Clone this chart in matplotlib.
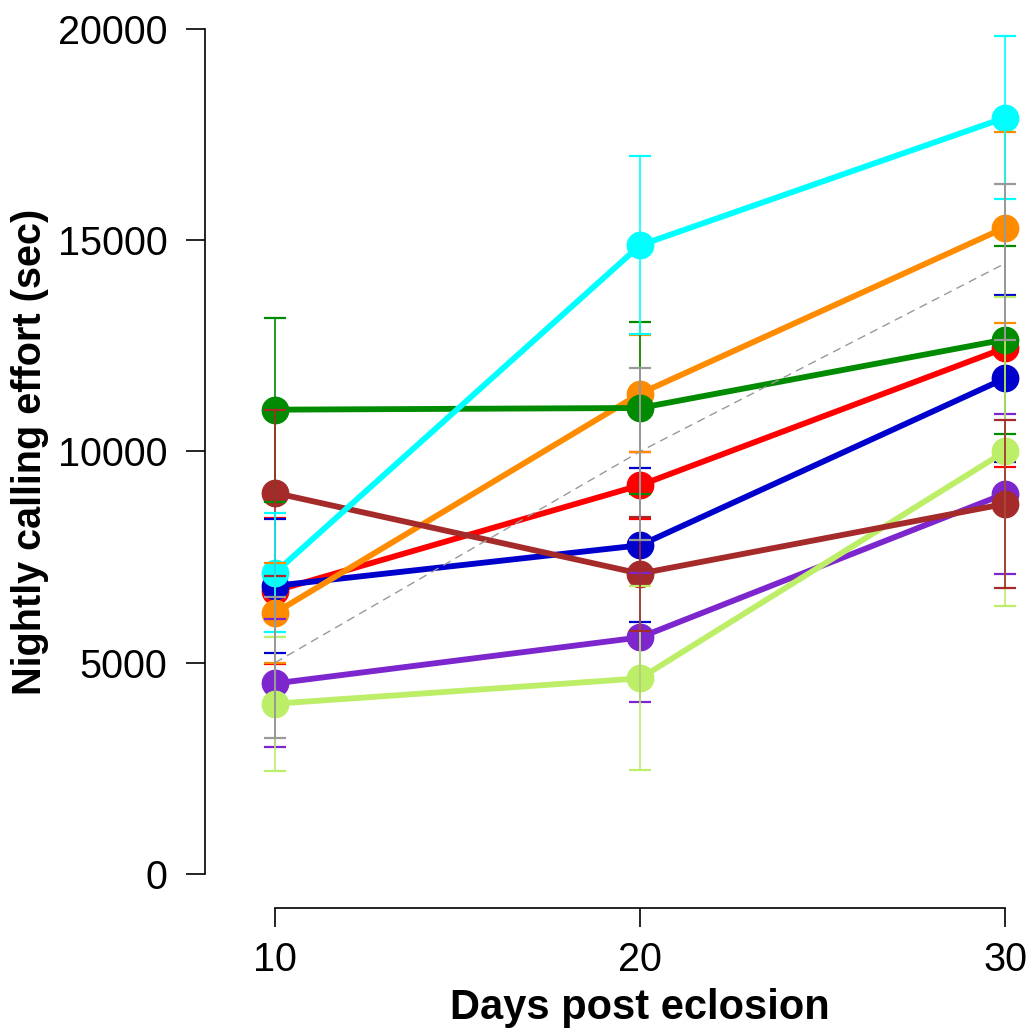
import numpy as np
import matplotlib
matplotlib.use("Agg")
import matplotlib.pyplot as plt

plt.rcParams['font.family'] = ['Liberation Sans', 'DejaVu Sans']

days = [10, 20, 30]

# mean nightly calling effort (sec) and error for each group
red = [6700, 9200, 12450]
red_err = [1720, 790, 2820]
blue = [6820, 7780, 11730]
blue_err = [1590, 1820, 1980]
orange = [6180, 11370, 15300]
orange_err = [1190, 1385, 2270]
green = [10990, 11030, 12650]
green_err = [2180, 2035, 2225]
purple = [4510, 5600, 9000]
purple_err = [1515, 1530, 1890]
lightgreen = [4030, 4630, 10000]
lightgreen_err = [1585, 2180, 3650]
brown = [9020, 7110, 8760]
brown_err = [1960, 1350, 1990]
cyan = [7130, 14880, 17900]
cyan_err = [1410, 2110, 1930]

# overall trend
overall = [5000, 10000, 14450]
overall_lo = [1780, 2100, 1810]
overall_hi = [1560, 1980, 1880]

groups = [
    (red, red_err, '#FF0000', 2.00, 1.50),
    (blue, blue_err, '#0000CD', 2.01, 1.60),
    (orange, orange_err, '#FF8C00', 2.02, 3.00),
    (green, green_err, '#008B00', 2.03, 3.10),
    (purple, purple_err, '#7D26CD', 2.04, 3.20),
    (lightgreen, lightgreen_err, '#BCEE68', 2.05, 3.30),
    (brown, brown_err, '#A52A2A', 2.06, 3.40),
    (cyan, cyan_err, '#00FFFF', 2.07, 3.50),
]

fig = plt.figure(figsize=(10.32, 10.33), dpi=100)
ax = fig.add_axes([205/1032, 1 - 908/1033, 827/1032, 908/1033])

for vals, err, col, zl, ze in groups:
    ax.plot(days, vals, color=col, lw=4.2, marker='o', ms=19,
            solid_capstyle='butt', zorder=zl)
    ax.errorbar(days, vals, yerr=err, fmt='none', ecolor=col,
                elinewidth=1.2, capsize=8, capthick=1.6, zorder=ze)

ax.plot(days, overall, color='#999999', lw=1.0, ls=(0, (6, 4)), zorder=2.5)
ax.errorbar(days, overall, yerr=[overall_lo, overall_hi], fmt='none',
            ecolor='#999999', elinewidth=1.4, capsize=8, capthick=1.6,
            zorder=3.6)

# R-style detached axes
ax.set_xlim(10 - 70/36.5, 30 + 27/36.5)
ax.set_ylim(-805, 20000 + 29/42.25*1000)
for s in ['top', 'right']:
    ax.spines[s].set_visible(False)
ax.spines['left'].set_bounds(0, 20000)
ax.spines['bottom'].set_bounds(10, 30)
ax.spines['left'].set_linewidth(1.2)
ax.spines['bottom'].set_linewidth(1.2)
ax.set_xticks([10, 20, 30])
ax.set_yticks([0, 5000, 10000, 15000, 20000])
ax.tick_params(axis='both', length=14, width=1.2, labelsize=28.5)
ax.tick_params(axis='y', pad=13)
ax.tick_params(axis='x', pad=10)

fig.text(640/1032, 1 - 1008/1033, 'Days post eclosion', ha='center',
         va='center', fontsize=30, fontweight='bold')
fig.text(30/1032, 1 - 452/1033, 'Nightly calling effort (sec)', ha='center',
         va='center', rotation=90, fontsize=28.5, fontweight='bold')

fig.savefig('out.png', dpi=100)
